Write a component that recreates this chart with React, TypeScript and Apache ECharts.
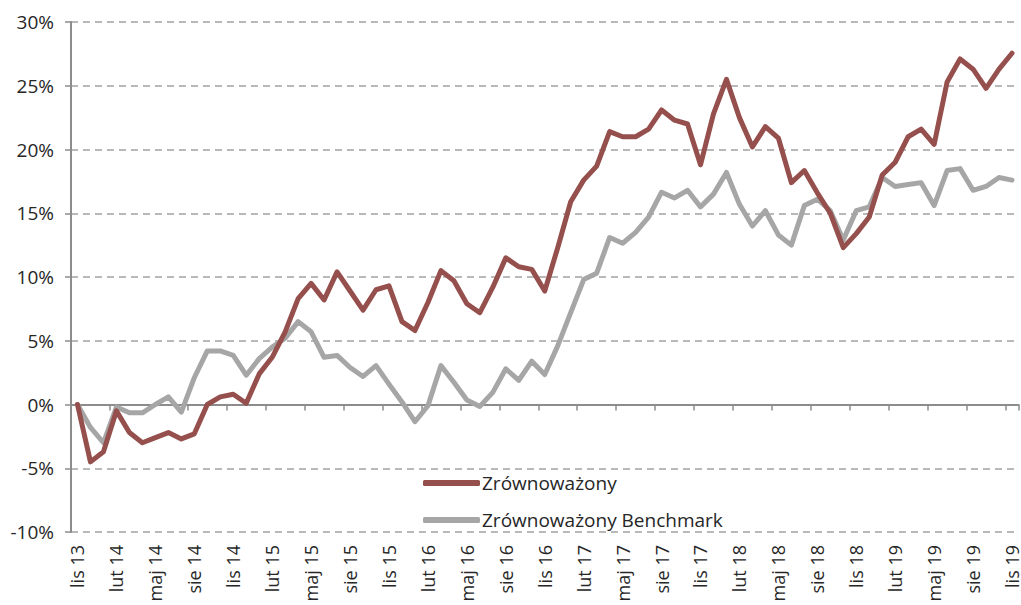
import React, { useEffect, useRef } from "react";
import * as echarts from "echarts";

const MONTHS = ["sty", "lut", "mar", "kwi", "maj", "cze", "lip", "sie", "wrz", "paź", "lis", "gru"];
// Nov 2013 .. Nov 2019 (73 months)
const categories: string[] = [];
for (let k = 0; k < 73; k++) {
  const m = (10 + k) % 12;
  const y = 13 + Math.floor((10 + k) / 12);
  categories.push(`${MONTHS[m]} ${y}`);
}

const zrownowazony = [
  0, -4.5, -3.7, -0.5, -2.2, -3.0, -2.6, -2.2, -2.7, -2.3,
  0.0, 0.6, 0.8, 0.1, 2.4, 3.7, 5.7, 8.3, 9.5, 8.2,
  10.4, 8.9, 7.4, 9.0, 9.3, 6.5, 5.8, 8.0, 10.5, 9.7,
  7.9, 7.2, 9.2, 11.5, 10.8, 10.6, 8.9, 12.3, 15.9, 17.6,
  18.7, 21.4, 21.0, 21.0, 21.6, 23.1, 22.3, 22.0, 18.8, 22.8,
  25.5, 22.5, 20.2, 21.8, 20.9, 17.4, 18.35, 16.6, 15.0, 12.3,
  13.4, 14.7, 18.0, 19.0, 21.0, 21.6, 20.4, 25.3, 27.1, 26.3,
  24.8, 26.3, 27.55,
];

const benchmark = [
  0, -1.8, -3.0, -0.2, -0.65, -0.65, 0.0, 0.6, -0.6, 2.1,
  4.2, 4.2, 3.85, 2.3, 3.6, 4.5, 5.2, 6.5, 5.7, 3.7,
  3.85, 2.9, 2.2, 3.05, 1.6, 0.2, -1.35, -0.1, 3.05, 1.75,
  0.35, -0.15, 0.95, 2.8, 1.9, 3.4, 2.35, 4.6, 7.2, 9.8,
  10.3, 13.1, 12.65, 13.5, 14.7, 16.65, 16.2, 16.8, 15.5, 16.5,
  18.2, 15.7, 14.0, 15.2, 13.3, 12.5, 15.6, 16.1, 15.2, 12.9,
  15.2, 15.5, 17.8, 17.1, 17.25, 17.4, 15.6, 18.35, 18.5, 16.8,
  17.1, 17.8, 17.6,
];

const seriesNames = ["Zrównoważony", "Zrównoważony Benchmark"];
const FONT = "'Open Sans', 'Noto Sans', sans-serif";
const TEXT = "#262626";

export default function App() {
  const ref = useRef<HTMLDivElement>(null);
  useEffect(() => {
    document.body.style.margin = "0";
    const chart = echarts.init(ref.current!, null, { renderer: "svg" });
    chart.setOption({
      animation: false,
      backgroundColor: "#ffffff",
      textStyle: { fontFamily: FONT },
      grid: { left: 71, right: 2, top: 22, bottom: 73, containLabel: false },
      legend: {
        orient: "vertical",
        left: 418,
        top: 467,
        itemWidth: 57,
        itemHeight: 6,
        itemGap: 15,
        icon: "roundRect",
        data: [seriesNames[0], seriesNames[1]],
        textStyle: { fontFamily: FONT, fontSize: 19, color: TEXT, lineHeight: 22, padding: [0, 0, 0, -3] },
      },
      xAxis: [
        {
          type: "category",
          data: categories,
          boundaryGap: true,
          position: "bottom",
          axisLine: { show: false, onZero: false },
          axisTick: { show: false },
          splitLine: { show: false },
          axisLabel: {
            interval: 2,
            rotate: 90,
            margin: 13,
            fontFamily: FONT,
            fontSize: 18,
            color: TEXT,
          },
        },
        {
          type: "category",
          data: categories,
          boundaryGap: true,
          position: "bottom",
          axisLine: { show: true, onZero: true, lineStyle: { color: "#8C8C8C", width: 2 } },
          axisTick: { show: true, interval: 2, length: 6, lineStyle: { color: "#8C8C8C", width: 1.5 } },
          axisLabel: { show: false },
          splitLine: { show: false },
        },
      ],
      yAxis: {
        type: "value",
        min: -10,
        max: 30,
        interval: 5,
        axisLine: { show: true, lineStyle: { color: "#8C8C8C", width: 2 } },
        axisTick: { show: true, length: 6, lineStyle: { color: "#8C8C8C", width: 1.5 } },
        axisLabel: {
          formatter: (v: number) => `${v}%`,
          margin: 17,
          fontFamily: FONT,
          fontSize: 19,
          color: TEXT,
        },
        splitLine: { show: true, lineStyle: { color: "#A3A3A3", width: 1.5, type: [7, 5] } },
      },
      series: [
        {
          name: seriesNames[1],
          type: "line",
          data: benchmark,
          xAxisIndex: 0,
          symbol: "none",
          color: "#A6A6A6",
          lineStyle: { width: 5, color: "#A6A6A6", cap: "round", join: "round" },
          z: 2,
        },
        {
          name: seriesNames[0],
          type: "line",
          data: zrownowazony,
          xAxisIndex: 0,
          symbol: "none",
          color: "#954F4C",
          lineStyle: { width: 5, color: "#954F4C", cap: "round", join: "round" },
          z: 3,
        },
      ],
    });
    return () => chart.dispose();
  }, []);
  return <div ref={ref} style={{ width: 1021, height: 605 }} />;
}
